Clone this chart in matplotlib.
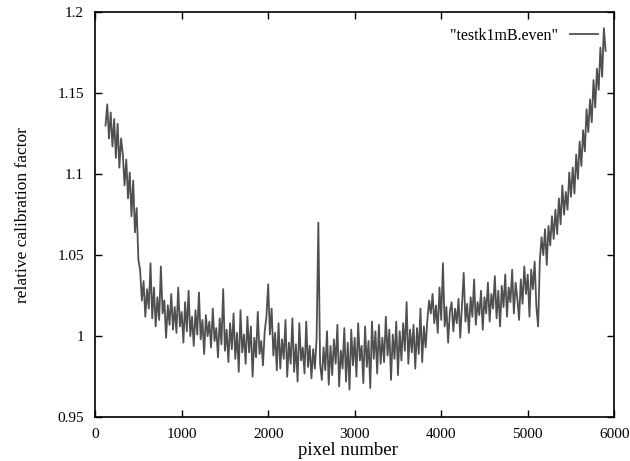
import numpy as np
import matplotlib.pyplot as plt

# pixel numbers (every 20th pixel of the even-pixel scan)
pixels = np.arange(120, 5901, 20)

# relative calibration factor, 10 values per row
factor = [
    1.130, 1.143, 1.122, 1.138, 1.117, 1.134, 1.110, 1.131, 1.104, 1.122,
    1.112, 1.093, 1.109, 1.085, 1.101, 1.074, 1.096, 1.064, 1.079, 1.047,
    1.041, 1.022, 1.034, 1.012, 1.029, 1.017, 1.045, 1.011, 1.030, 1.006,
    1.024, 1.010, 1.043, 1.014, 1.022, 0.999, 1.019, 1.007, 1.026, 1.004,
    1.018, 1.002, 1.030, 1.006, 1.015, 0.996, 1.021, 1.003, 1.028, 1.000,
    1.012, 0.994, 1.016, 1.001, 1.027, 0.998, 1.010, 0.989, 1.013, 1.000,
    1.009, 0.993, 1.017, 0.997, 1.005, 0.987, 1.011, 0.995, 1.029, 0.991,
    1.004, 0.984, 1.008, 0.992, 1.014, 0.986, 1.002, 0.978, 1.016, 0.990,
    1.001, 0.983, 1.012, 0.990, 1.006, 0.975, 0.999, 0.987, 1.015, 0.989,
    0.997, 0.982, 1.003, 1.012, 1.032, 1.001, 1.017, 0.988, 1.002, 0.979,
    1.008, 0.980, 0.998, 0.986, 1.010, 0.975, 0.996, 0.983, 1.011, 0.978,
    0.995, 0.972, 1.008, 0.985, 0.993, 0.977, 1.009, 0.981, 0.994, 0.974,
    0.992, 0.980, 0.999, 1.070, 0.983, 0.973, 0.993, 0.979, 1.003, 0.970,
    0.994, 0.976, 0.998, 0.983, 1.007, 0.969, 0.991, 0.980, 1.005, 0.972,
    0.996, 0.967, 1.004, 0.982, 0.999, 0.975, 1.008, 0.985, 0.994, 0.971,
    1.006, 0.981, 0.997, 0.968, 1.009, 0.986, 1.003, 0.977, 1.007, 0.983,
    0.999, 0.984, 1.012, 0.988, 1.004, 0.973, 1.001, 0.986, 1.009, 0.976,
    1.003, 0.985, 1.008, 0.991, 1.021, 0.983, 1.004, 0.990, 1.007, 0.980,
    1.005, 0.989, 1.017, 0.984, 1.006, 0.993, 1.010, 1.022, 1.014, 1.026,
    1.008, 1.019, 1.002, 1.030, 1.010, 1.045, 1.006, 1.018, 0.996, 1.015,
    1.021, 1.003, 1.017, 1.008, 1.023, 0.999, 1.019, 1.039, 1.009, 1.020,
    1.002, 1.024, 1.012, 1.035, 1.007, 1.021, 1.013, 1.028, 1.004, 1.024,
    1.014, 1.033, 1.009, 1.026, 1.017, 1.037, 1.011, 1.028, 1.006, 1.031,
    1.018, 1.038, 1.012, 1.030, 1.021, 1.041, 1.014, 1.033, 1.023, 1.010,
    1.035, 1.020, 1.043, 1.026, 1.038, 1.012, 1.041, 1.029, 1.046, 1.018,
    1.006, 1.047, 1.061, 1.050, 1.066, 1.044, 1.068, 1.056, 1.074, 1.060,
    1.078, 1.063, 1.085, 1.069, 1.093, 1.075, 1.089, 1.078, 1.101, 1.086,
    1.104, 1.088, 1.112, 1.097, 1.120, 1.105, 1.127, 1.114, 1.140, 1.126,
    1.146, 1.132, 1.158, 1.141, 1.165, 1.152, 1.178, 1.160, 1.190, 1.176,
]

x_ticks = [0, 1000, 2000, 3000, 4000, 5000, 6000]
y_ticks = [0.95, 1.0, 1.05, 1.1, 1.15, 1.2]
y_tick_labels = ['0.95', '1', '1.05', '1.1', '1.15', '1.2']

plt.rcParams['font.family'] = ['Liberation Serif', 'DejaVu Serif']

fig = plt.figure(figsize=(6.3, 4.61), dpi=100)
ax = fig.add_axes([0.151, 0.095, 0.824, 0.879])

ax.plot(pixels, factor, color='#505050', lw=1.3, label='"testk1mB.even"')

ax.set_xlim(0, 6000)
ax.set_ylim(0.95, 1.2)
ax.set_xticks(x_ticks)
ax.set_yticks(y_ticks)
ax.set_yticklabels(y_tick_labels)
ax.tick_params(direction='in', top=True, right=True, length=5, width=1,
               labelsize=11, pad=8)
for s in ax.spines.values():
    s.set_linewidth(1.2)

ax.set_xlabel('pixel number', fontsize=13.5)
ax.xaxis.set_label_coords(0.487, -0.062)
ax.set_ylabel('relative calibration factor', fontsize=12.5, labelpad=19)

ax.legend(loc='upper right', frameon=False, fontsize=11.5, markerfirst=False,
          handlelength=1.75, borderaxespad=0.6)

fig.savefig('out.png', dpi=100, facecolor='white')
